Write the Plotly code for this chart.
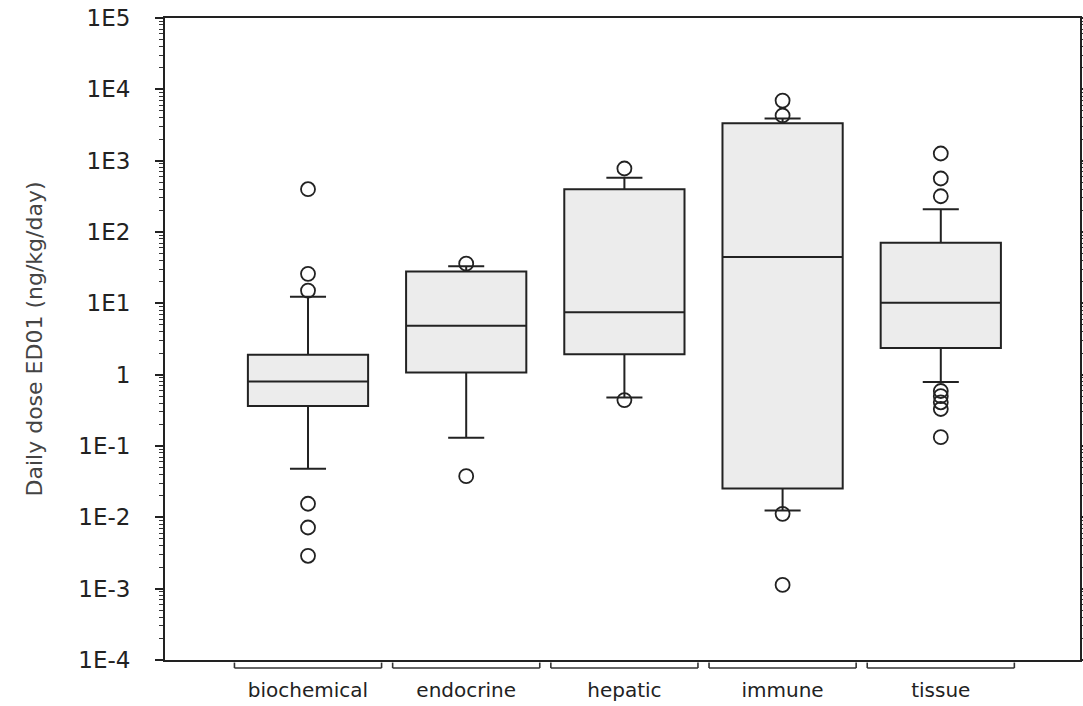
import plotly.graph_objects as go

# ---- data ----
categories = ["biochemical", "endocrine", "hepatic", "immune", "tissue"]
q1_vals = [0.364, 1.07, 1.94, 0.0254, 2.36]
median_vals = [0.80, 4.86, 7.5, 44.6, 10.2]
q3_vals = [1.9, 27.9, 398, 3340, 70.6]
lower_whisker = [0.048, 0.131, 0.478, 0.0125, 0.79]
upper_whisker = [12.4, 33.0, 574, 3900, 209]

outliers_biochemical = [398, 25.9, 15.1, 0.0155, 0.0072, 0.00289]
outliers_endocrine = [36.0, 0.0378]
outliers_hepatic = [776, 0.44]
outliers_immune = [6950, 4300, 0.0112, 0.00113]
outliers_tissue = [1260, 562, 317, 0.59, 0.50, 0.41, 0.33, 0.133]
outliers = [outliers_biochemical, outliers_endocrine, outliers_hepatic,
            outliers_immune, outliers_tissue]

decades = list(range(-4, 6))
tick_text = ["1E-4", "1E-3", "1E-2", "1E-1", "1", "1E1", "1E2", "1E3", "1E4", "1E5"]

FONT = "DejaVu Sans, Liberation Sans, Arial, sans-serif"

# ---- figure ----
fig = go.Figure()

fig.add_trace(go.Box(
    x=categories,
    q1=q1_vals, median=median_vals, q3=q3_vals,
    lowerfence=lower_whisker, upperfence=upper_whisker,
    boxpoints=False,
    fillcolor="#ececec",
    line=dict(color="#222222", width=2),
    whiskerwidth=0.3,
    showlegend=False,
    hoverinfo="skip",
))

ox, oy = [], []
for cat, vals in zip(categories, outliers):
    for v in vals:
        ox.append(cat)
        oy.append(v)

fig.add_trace(go.Scatter(
    x=ox, y=oy, mode="markers",
    marker=dict(symbol="circle-open", size=14, color="#222222",
                line=dict(width=1.8, color="#222222")),
    showlegend=False, cliponaxis=False, hoverinfo="skip",
))

# brackets under each category (SigmaPlot style)
shapes = []
for i, _ in enumerate(categories):
    x0, x1 = i - 0.465, i + 0.465
    common = dict(type="line", xref="x", yref="paper",
                  line=dict(color="#333333", width=1.6))
    shapes.append(dict(x0=x0, x1=x1, y0=-0.0125, y1=-0.0125, **common))
    shapes.append(dict(x0=x0, x1=x0, y0=-0.0125, y1=-0.004, **common))
    shapes.append(dict(x0=x1, x1=x1, y0=-0.0125, y1=-0.004, **common))

minor_vals = [m * 10 ** d for d in decades[:-1] for m in range(2, 10)]

fig.update_layout(
    width=1083, height=706,
    margin=dict(l=165, r=3, t=18, b=46),
    paper_bgcolor="white", plot_bgcolor="white",
    font=dict(family=FONT, color="#222222", size=15),
    boxgap=0.24, boxgroupgap=0,
    shapes=shapes,
)

fig.update_xaxes(
    type="category",
    categoryorder="array", categoryarray=categories,
    range=[-0.904, 4.88],
    automargin=False,
    showline=True, linecolor="#222222", linewidth=2, mirror=True,
    ticks="outside", ticklen=11, tickcolor="rgba(0,0,0,0)",
    tickfont=dict(family=FONT, size=20, color="#222222"),
    showgrid=False, zeroline=False,
)

fig.update_yaxes(
    type="log", range=[-4, 5],
    automargin=False,
    tickmode="array",
    tickvals=[10 ** d for d in decades], ticktext=tick_text,
    ticks="outside", ticklen=8, tickwidth=1.5, tickcolor="#222222",
    ticklabelstandoff=20,
    minor=dict(tickmode="array", tickvals=minor_vals, ticks="outside",
               ticklen=4, tickwidth=1, tickcolor="#333333", showgrid=False),
    showline=True, linecolor="#222222", linewidth=2, mirror="allticks",
    showgrid=False, zeroline=False,
    tickfont=dict(family=FONT, size=23, color="#222222"),
    title=dict(text="Daily dose ED01 (ng/kg/day)",
               font=dict(family=FONT, size=22, color="#444444"),
               standoff=30),
)

fig.write_html("out.html",
               config={"displayModeBar": False},
               post_script="document.body.style.margin='0';document.body.style.padding='0';")
